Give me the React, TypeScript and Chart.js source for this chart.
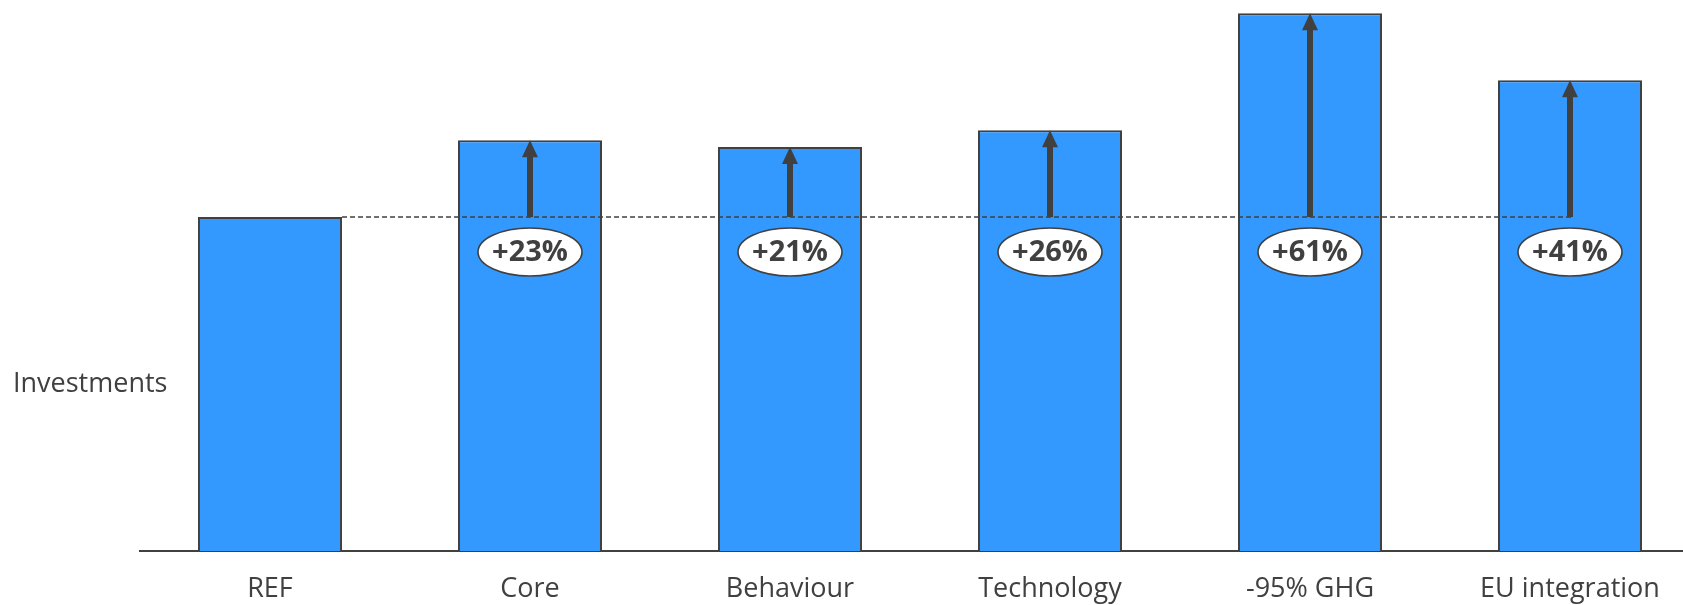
import React, { useEffect, useRef } from "react";
import { Chart, registerables } from "chart.js";

Chart.register(...registerables);

// Scenario names along the bottom axis
const categories = ["REF", "Core", "Behaviour", "Technology", "-95% GHG", "EU integration"];
// Investment level of each scenario, REF = 100
const investments = [100, 123, 121, 126, 161, 141];
// Side label and the value it sits at
const sideLabel = "Investments";
const sideLabelValue = 50;

const TEXT = "#404040";
const FONT = "'Open Sans', sans-serif";

// Draws the REF reference line, the increase arrows and the percentage badges
const increasePlugin = {
  id: "increaseArrows",
  afterDatasetsDraw(chart: any) {
    const { ctx } = chart;
    const meta = chart.getDatasetMeta(0);
    const y = chart.scales.y;
    const ref = investments[0];
    const yRef = y.getPixelForValue(ref);
    const bars = meta.data;

    ctx.save();
    // dashed REF level line
    const refBar = bars[0];
    const lastBar = bars[bars.length - 1];
    ctx.strokeStyle = TEXT;
    ctx.lineWidth = 1.6;
    ctx.setLineDash([5, 3]);
    ctx.beginPath();
    ctx.moveTo(refBar.x + refBar.width / 2, yRef);
    ctx.lineTo(lastBar.x + 4, yRef);
    ctx.stroke();
    ctx.setLineDash([]);

    for (let i = 1; i < bars.length; i++) {
      const bar = bars[i];
      const cx = bar.x;
      const yTop = y.getPixelForValue(investments[i]);
      const headH = 17;
      const headW = 16;
      const shaftW = 6;
      // shaft
      ctx.fillStyle = TEXT;
      ctx.fillRect(cx - shaftW / 2, yTop + headH - 1, shaftW, yRef - (yTop + headH - 1));
      // head
      ctx.beginPath();
      ctx.moveTo(cx, yTop);
      ctx.lineTo(cx + headW / 2, yTop + headH);
      ctx.lineTo(cx - headW / 2, yTop + headH);
      ctx.closePath();
      ctx.fill();

      // badge
      const pct = Math.round((investments[i] / ref - 1) * 100);
      const ey = yRef + 35;
      ctx.beginPath();
      ctx.ellipse(cx, ey, 52, 24, 0, 0, Math.PI * 2);
      ctx.fillStyle = "#ffffff";
      ctx.fill();
      ctx.lineWidth = 1.6;
      ctx.strokeStyle = TEXT;
      ctx.stroke();
      ctx.fillStyle = TEXT;
      ctx.font = `bold 29px ${FONT}`;
      ctx.textAlign = "center";
      ctx.textBaseline = "middle";
      ctx.fillText(`+${pct}%`, cx, ey + 1);
    }

    // side label
    ctx.font = `27px ${FONT}`;
    ctx.textAlign = "left";
    ctx.textBaseline = "middle";
    ctx.fillStyle = TEXT;
    ctx.fillText(sideLabel, 13, y.getPixelForValue(sideLabelValue));
    ctx.restore();
  },
};

export default function App() {
  const canvasRef = useRef<HTMLCanvasElement>(null);

  useEffect(() => {
    if (!canvasRef.current) return;
    const chart = new Chart(canvasRef.current, {
      type: "bar",
      data: {
        labels: categories,
        datasets: [
          {
            data: investments,
            backgroundColor: "#3399FF",
            borderColor: TEXT,
            borderWidth: 2,
            categoryPercentage: 1,
            barPercentage: 0.554,
          },
        ],
      },
      options: {
        responsive: false,
        animation: false,
        devicePixelRatio: 1,
        layout: { padding: { left: 140, right: 0, top: 0, bottom: 0 } },
        plugins: {
          legend: { display: false },
          tooltip: { enabled: false },
        },
        scales: {
          x: {
            offset: true,
            grid: { display: false, drawTicks: false },
            border: { display: true, color: TEXT, width: 2 },
            ticks: {
              color: TEXT,
              font: { family: FONT, size: 27 },
              padding: 22,
              maxRotation: 0,
              autoSkip: false,
            },
            afterFit: (scale: any) => {
              scale.height = 54;
            },
          },
          y: {
            display: false,
            min: 0,
            max: 165,
          },
        },
      },
      plugins: [increasePlugin],
    });
    return () => chart.destroy();
  }, []);

  return (
    <div
      style={{
        position: "absolute",
        left: 0,
        top: 0,
        width: 1683,
        height: 605,
        overflow: "hidden",
        background: "#ffffff",
      }}
    >
      <canvas ref={canvasRef} width={1700} height={605} style={{ display: "block" }} />
    </div>
  );
}
